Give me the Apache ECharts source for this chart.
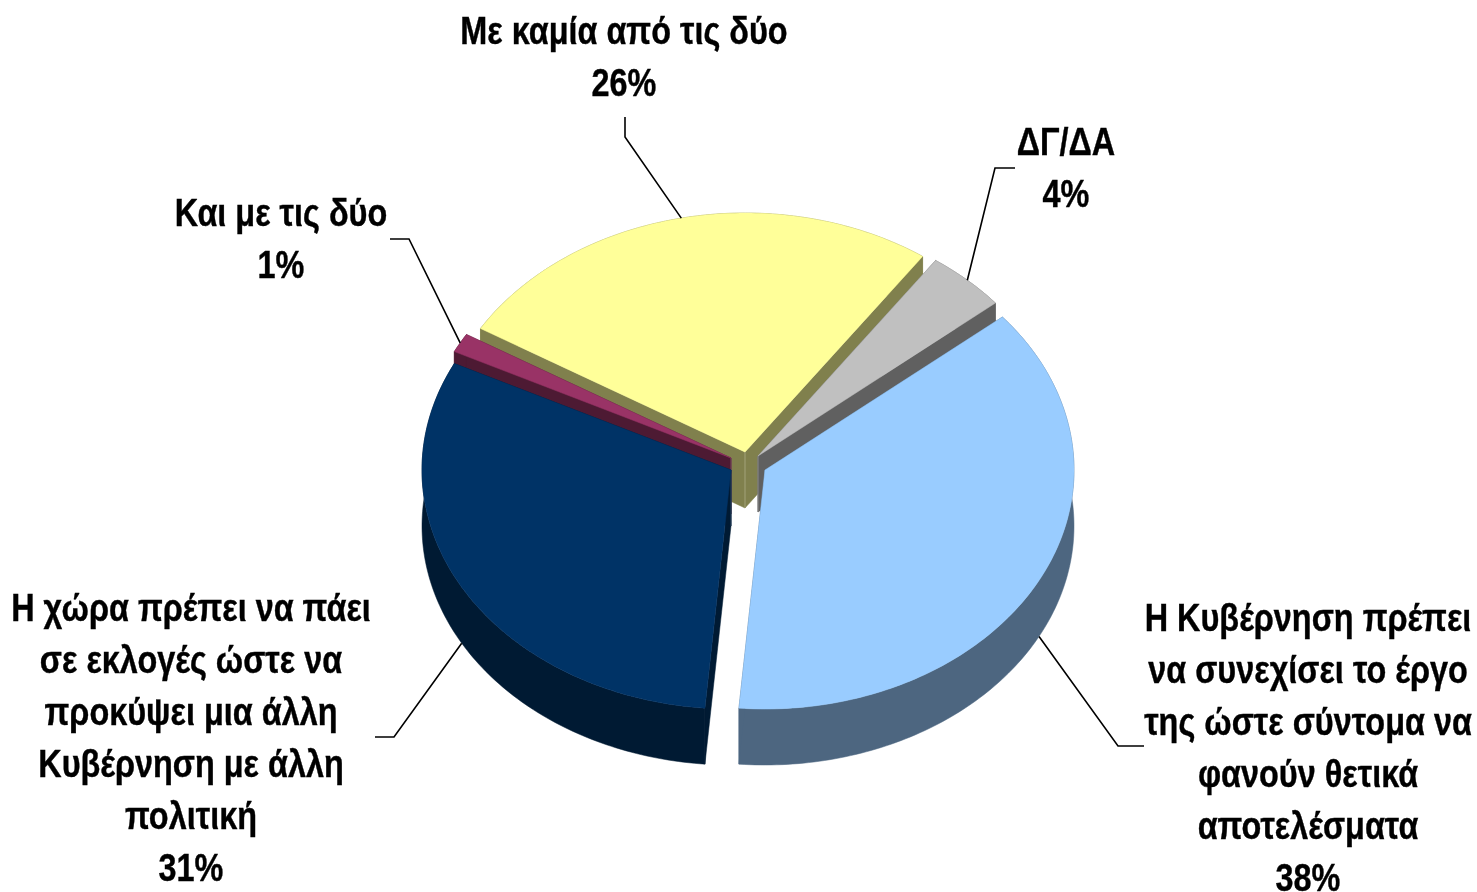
<!DOCTYPE html>
<html>
<head>
<meta charset="utf-8">
<title>Pie</title>
<style>html,body{margin:0;padding:0;background:#fff}#c{width:1477px;height:892px}</style>
<script src="https://cdn.jsdelivr.net/npm/echarts@6/dist/echarts.min.js"></script>
</head>
<body>
<div id="c"></div>
<script>
// ---- data ----
var categories = [
  'Η Κυβέρνηση πρέπει\nνα συνεχίσει το έργο\nτης ώστε σύντομα να\nφανούν θετικά\nαποτελέσματα',
  'Η χώρα πρέπει να πάει\nσε εκλογές ώστε να\nπροκύψει μια άλλη\nΚυβέρνηση με άλλη\nπολιτική',
  'Και με τις δύο',
  'Με καμία από τις δύο',
  'ΔΓ/ΔΑ'
];
var values = [37.4, 31.0, 1.3, 26.1, 4.2];
var percentLabels = ['38%', '31%', '1%', '26%', '4%'];

// ---- styles ----
var topColors = ['#99CCFF', '#003366', '#993366', '#FFFF99', '#C0C0C0'];
var wallColors = ['#4D6680', '#001A33', '#4D1A33', '#80804D', '#606060'];
var seamColors = ['#6d859d', '#2a4560', '#7a4a60', '#a2a27a', '#8a8a8a'];

// ---- layout ----
var startAngle = 39.8, radiusX = 309, radiusY = 239, depth = 56;
var sliceCenters = [[765, 470], [731, 470], [731, 458], [745, 452], [758, 456]];
var paintOrder = [4, 3, 2, 0, 1]; // rank of each slice, back to front
var leaderElbows = [
  [[1118, 746], [1144, 746]],
  [[394, 737], [375, 737]],
  [[409, 239], [390, 239]],
  [[625, 137], [625, 117]],
  [[995, 168], [1015, 168]]
];
var labelCenters = [[1308, 751], [191, 741], [281, 242], [624, 60], [1066, 171]];
var fontFamily = '"Liberation Sans", Arial, sans-serif';
var fontSize = 38, lineHeight = 52, textSqueeze = 0.853;

var total = values.reduce(function (a, b) { return a + b; }, 0);
function sliceAngles(idx) {
  var before = 0;
  for (var i = 0; i < idx; i++) before += values[i];
  var a0 = startAngle - before / total * 360;
  return [a0, a0 - values[idx] / total * 360];
}
function rimPoint(c, deg, dy) {
  var r = deg * Math.PI / 180;
  return [c[0] + radiusX * Math.cos(r), c[1] - radiusY * Math.sin(r) + (dy || 0)];
}

function renderSlice(params, api) {
  var i = params.dataIndex;
  var c = sliceCenters[i];
  var ang = sliceAngles(i);
  var n = Math.max(4, Math.ceil(Math.abs(ang[1] - ang[0])));
  var rimTop = [], rimBottom = [];
  for (var k = 0; k <= n; k++) {
    var d = ang[0] + (ang[1] - ang[0]) * k / n;
    rimTop.push(rimPoint(c, d));
    rimBottom.push(rimPoint(c, d, depth));
  }
  var base = (paintOrder[i] + 1) * 10;
  var cBottom = [c[0], c[1] + depth];
  var wallStyle = { fill: wallColors[i], stroke: wallColors[i], lineWidth: 0.5 };
  var children = [
    { type: 'polygon', z2: base, shape: { points: rimTop.concat(rimBottom.slice().reverse()) }, style: wallStyle },
    { type: 'polygon', z2: base + 1, shape: { points: [c, rimTop[0], rimBottom[0], cBottom] }, style: wallStyle },
    { type: 'polygon', z2: base + 1, shape: { points: [c, rimTop[n], rimBottom[n], cBottom] }, style: wallStyle },
    { type: 'line', z2: base + 2, shape: { x1: c[0], y1: c[1], x2: cBottom[0], y2: cBottom[1] },
      style: { stroke: seamColors[i], lineWidth: 1 } },
    { type: 'polygon', z2: base + 3, shape: { points: [c].concat(rimTop) },
      style: { fill: topColors[i], stroke: topColors[i], lineWidth: 0.5 } }
  ];

  // leader line starts on the slice's rim at its mid angle
  var mid = (ang[0] + ang[1]) / 2;
  var anchor = rimPoint(c, mid, Math.sin(mid * Math.PI / 180) < 0 ? depth : 0);
  children.push({
    type: 'polyline', z2: 200,
    shape: { points: [anchor].concat(leaderElbows[i]) },
    style: { fill: null, stroke: '#000', lineWidth: 1.6 }
  });
  children.push({
    type: 'text', z2: 210, x: labelCenters[i][0], y: labelCenters[i][1],
    scaleX: textSqueeze,
    style: {
      text: categories[i] + '\n' + percentLabels[i],
      fill: '#000', stroke: '#000', lineWidth: 0.4, align: 'center', verticalAlign: 'middle',
      font: 'bold ' + fontSize + 'px ' + fontFamily, lineHeight: lineHeight
    }
  });
  return { type: 'group', children: children };
}

var chart = echarts.init(document.getElementById('c'), null, { renderer: 'canvas' });
chart.setOption({
  backgroundColor: '#fff',
  animation: false,
  series: [{
    type: 'custom',
    coordinateSystem: 'none',
    clip: false,
    silent: true,
    data: values.map(function (v, i) { return { name: categories[i], value: [v] }; }),
    renderItem: renderSlice
  }]
});
</script>
</body>
</html>
